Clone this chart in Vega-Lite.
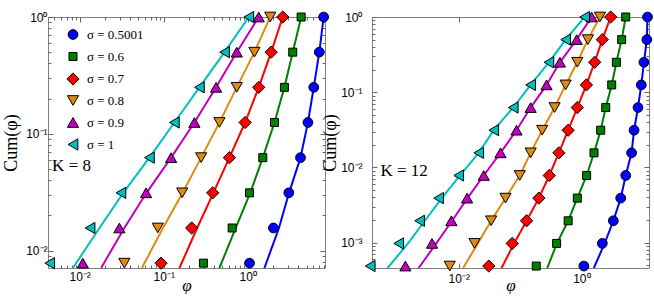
{
  "$schema": "https://vega.github.io/schema/vega-lite/v6.json",
  "padding": {"left": 2, "top": 8, "right": 0, "bottom": 0},
  "spacing": -11,
  "background": "white",
  "config": {
    "view": {"stroke": "#808080", "strokeWidth": 1},
    "axis": {
      "domain": false, "grid": false,
      "labelFont": "Liberation Sans", "labelFontSize": 12, "labelColor": "black",
      "titleFont": "Liberation Serif", "titleFontSize": 18, "titleFontWeight": "normal", "titleColor": "black",
      "tickColor": "#666666", "labelOverlap": false, "labelFlush": false, "minExtent": 0
    },
    "text": {"font": "Liberation Serif"}
  },
  "datasets": {
    "k8pts": [
      {"s": "0.5001", "x": 8, "y": 1}, {"s": "0.5001", "x": 7.1, "y": 0.5}, {"s": "0.5001", "x": 6.1, "y": 0.25}, {"s": "0.5001", "x": 5.2, "y": 0.125}, {"s": "0.5001", "x": 4.24, "y": 0.0625}, {"s": "0.5001", "x": 3.08, "y": 0.03125}, {"s": "0.5001", "x": 2.02, "y": 0.015625}, {"s": "0.5001", "x": 1.05, "y": 0.0078125},
      {"s": "0.6", "x": 4.32, "y": 1}, {"s": "0.6", "x": 3.43, "y": 0.5}, {"s": "0.6", "x": 2.73, "y": 0.25}, {"s": "0.6", "x": 2.08, "y": 0.125}, {"s": "0.6", "x": 1.51, "y": 0.0625}, {"s": "0.6", "x": 1.05, "y": 0.03125}, {"s": "0.6", "x": 0.652, "y": 0.015625}, {"s": "0.6", "x": 0.297, "y": 0.0078125},
      {"s": "0.7", "x": 2.61, "y": 1}, {"s": "0.7", "x": 1.9, "y": 0.5}, {"s": "0.7", "x": 1.35, "y": 0.25}, {"s": "0.7", "x": 0.93, "y": 0.125}, {"s": "0.7", "x": 0.605, "y": 0.0625}, {"s": "0.7", "x": 0.383, "y": 0.03125}, {"s": "0.7", "x": 0.215, "y": 0.015625}, {"s": "0.7", "x": 0.093, "y": 0.0078125},
      {"s": "0.8", "x": 1.85, "y": 1}, {"s": "0.8", "x": 1.2, "y": 0.5}, {"s": "0.8", "x": 0.74, "y": 0.25}, {"s": "0.8", "x": 0.46, "y": 0.125}, {"s": "0.8", "x": 0.279, "y": 0.0625}, {"s": "0.8", "x": 0.166, "y": 0.03125}, {"s": "0.8", "x": 0.085, "y": 0.015625}, {"s": "0.8", "x": 0.034, "y": 0.0078125},
      {"s": "0.9", "x": 1.35, "y": 1}, {"s": "0.9", "x": 0.74, "y": 0.5}, {"s": "0.9", "x": 0.42, "y": 0.25}, {"s": "0.9", "x": 0.232, "y": 0.125}, {"s": "0.9", "x": 0.1225, "y": 0.0625}, {"s": "0.9", "x": 0.0617, "y": 0.03125}, {"s": "0.9", "x": 0.0297, "y": 0.015625}, {"s": "0.9", "x": 0.0109, "y": 0.0078125},
      {"s": "1", "x": 1.03, "y": 1}, {"s": "1", "x": 0.53, "y": 0.5}, {"s": "1", "x": 0.266, "y": 0.25}, {"s": "1", "x": 0.134, "y": 0.125}, {"s": "1", "x": 0.0676, "y": 0.0625}, {"s": "1", "x": 0.031, "y": 0.03125}, {"s": "1", "x": 0.0133, "y": 0.015625}, {"s": "1", "x": 0.0044, "y": 0.0078125}
    ],
    "k8line": [
      {"s": "0.5001", "x": 8, "y": 1}, {"s": "0.5001", "x": 7.1, "y": 0.5}, {"s": "0.5001", "x": 6.1, "y": 0.25}, {"s": "0.5001", "x": 5.2, "y": 0.125}, {"s": "0.5001", "x": 4.24, "y": 0.0625}, {"s": "0.5001", "x": 3.1, "y": 0.03125}, {"s": "0.5001", "x": 2.35, "y": 0.015625}, {"s": "0.5001", "x": 1.58, "y": 0.0071},
      {"s": "0.6", "x": 4.32, "y": 1}, {"s": "0.6", "x": 3.43, "y": 0.5}, {"s": "0.6", "x": 2.73, "y": 0.25}, {"s": "0.6", "x": 2.08, "y": 0.125}, {"s": "0.6", "x": 1.51, "y": 0.0625}, {"s": "0.6", "x": 1.07, "y": 0.03125}, {"s": "0.6", "x": 0.72, "y": 0.015625}, {"s": "0.6", "x": 0.46, "y": 0.0071},
      {"s": "0.7", "x": 2.61, "y": 1}, {"s": "0.7", "x": 1.9, "y": 0.5}, {"s": "0.7", "x": 1.35, "y": 0.25}, {"s": "0.7", "x": 0.93, "y": 0.125}, {"s": "0.7", "x": 0.605, "y": 0.0625}, {"s": "0.7", "x": 0.39, "y": 0.03125}, {"s": "0.7", "x": 0.25, "y": 0.015625}, {"s": "0.7", "x": 0.154, "y": 0.0071},
      {"s": "0.8", "x": 1.85, "y": 1}, {"s": "0.8", "x": 1.2, "y": 0.5}, {"s": "0.8", "x": 0.74, "y": 0.25}, {"s": "0.8", "x": 0.46, "y": 0.125}, {"s": "0.8", "x": 0.279, "y": 0.0625}, {"s": "0.8", "x": 0.168, "y": 0.03125}, {"s": "0.8", "x": 0.098, "y": 0.015625}, {"s": "0.8", "x": 0.055, "y": 0.0071},
      {"s": "0.9", "x": 1.35, "y": 1}, {"s": "0.9", "x": 0.74, "y": 0.5}, {"s": "0.9", "x": 0.42, "y": 0.25}, {"s": "0.9", "x": 0.232, "y": 0.125}, {"s": "0.9", "x": 0.1225, "y": 0.0625}, {"s": "0.9", "x": 0.0625, "y": 0.03125}, {"s": "0.9", "x": 0.034, "y": 0.015625}, {"s": "0.9", "x": 0.018, "y": 0.0071},
      {"s": "1", "x": 1.03, "y": 1}, {"s": "1", "x": 0.53, "y": 0.5}, {"s": "1", "x": 0.266, "y": 0.25}, {"s": "1", "x": 0.134, "y": 0.125}, {"s": "1", "x": 0.0676, "y": 0.0625}, {"s": "1", "x": 0.033, "y": 0.03125}, {"s": "1", "x": 0.0172, "y": 0.015625}, {"s": "1", "x": 0.0083, "y": 0.0071}
    ],
    "k12pts": [
      {"s": "0.5001", "x": 12, "y": 1}, {"s": "0.5001", "x": 11.7, "y": 0.5}, {"s": "0.5001", "x": 10.5, "y": 0.25}, {"s": "0.5001", "x": 9.5, "y": 0.125}, {"s": "0.5001", "x": 8.4, "y": 0.0625}, {"s": "0.5001", "x": 7.25, "y": 0.03125}, {"s": "0.5001", "x": 6.6, "y": 0.015625}, {"s": "0.5001", "x": 5.3, "y": 0.0078125}, {"s": "0.5001", "x": 4.39, "y": 0.00390625}, {"s": "0.5001", "x": 3.33, "y": 0.001953125}, {"s": "0.5001", "x": 2.2, "y": 0.0009765625}, {"s": "0.5001", "x": 1.1, "y": 0.00048828125},
      {"s": "0.6", "x": 5.3, "y": 1}, {"s": "0.6", "x": 4.55, "y": 0.5}, {"s": "0.6", "x": 3.73, "y": 0.25}, {"s": "0.6", "x": 3.13, "y": 0.125}, {"s": "0.6", "x": 2.5, "y": 0.0625}, {"s": "0.6", "x": 2.07, "y": 0.03125}, {"s": "0.6", "x": 1.61, "y": 0.015625}, {"s": "0.6", "x": 1.22, "y": 0.0078125}, {"s": "0.6", "x": 0.86, "y": 0.00390625}, {"s": "0.6", "x": 0.61, "y": 0.001953125}, {"s": "0.6", "x": 0.395, "y": 0.0009765625}, {"s": "0.6", "x": 0.184, "y": 0.00048828125},
      {"s": "0.7", "x": 3.01, "y": 1}, {"s": "0.7", "x": 2.2, "y": 0.5}, {"s": "0.7", "x": 1.65, "y": 0.25}, {"s": "0.7", "x": 1.21, "y": 0.125}, {"s": "0.7", "x": 0.86, "y": 0.0625}, {"s": "0.7", "x": 0.61, "y": 0.03125}, {"s": "0.7", "x": 0.43, "y": 0.015625}, {"s": "0.7", "x": 0.3, "y": 0.0078125}, {"s": "0.7", "x": 0.203, "y": 0.00390625}, {"s": "0.7", "x": 0.128, "y": 0.001953125}, {"s": "0.7", "x": 0.0745, "y": 0.0009765625}, {"s": "0.7", "x": 0.031, "y": 0.00048828125},
      {"s": "0.8", "x": 2.01, "y": 1}, {"s": "0.8", "x": 1.28, "y": 0.5}, {"s": "0.8", "x": 0.86, "y": 0.25}, {"s": "0.8", "x": 0.555, "y": 0.125}, {"s": "0.8", "x": 0.366, "y": 0.0625}, {"s": "0.8", "x": 0.23, "y": 0.03125}, {"s": "0.8", "x": 0.149, "y": 0.015625}, {"s": "0.8", "x": 0.099, "y": 0.0078125}, {"s": "0.8", "x": 0.058, "y": 0.00390625}, {"s": "0.8", "x": 0.0338, "y": 0.001953125}, {"s": "0.8", "x": 0.0181, "y": 0.0009765625}, {"s": "0.8", "x": 0.00713, "y": 0.00048828125},
      {"s": "0.9", "x": 1.47, "y": 1}, {"s": "0.9", "x": 0.84, "y": 0.5}, {"s": "0.9", "x": 0.447, "y": 0.25}, {"s": "0.9", "x": 0.271, "y": 0.125}, {"s": "0.9", "x": 0.149, "y": 0.0625}, {"s": "0.9", "x": 0.0877, "y": 0.03125}, {"s": "0.9", "x": 0.048, "y": 0.015625}, {"s": "0.9", "x": 0.0256, "y": 0.0078125}, {"s": "0.9", "x": 0.0137, "y": 0.00390625}, {"s": "0.9", "x": 0.0076, "y": 0.001953125}, {"s": "0.9", "x": 0.00367, "y": 0.0009765625}, {"s": "0.9", "x": 0.00135, "y": 0.00048828125},
      {"s": "1", "x": 1.13, "y": 1}, {"s": "1", "x": 0.555, "y": 0.5}, {"s": "1", "x": 0.296, "y": 0.25}, {"s": "1", "x": 0.149, "y": 0.125}, {"s": "1", "x": 0.0775, "y": 0.0625}, {"s": "1", "x": 0.0373, "y": 0.03125}, {"s": "1", "x": 0.0212, "y": 0.015625}, {"s": "1", "x": 0.01, "y": 0.0078125}, {"s": "1", "x": 0.0047, "y": 0.00390625}, {"s": "1", "x": 0.0023, "y": 0.001953125}, {"s": "1", "x": 0.00105, "y": 0.0009765625}, {"s": "1", "x": 0.00036, "y": 0.00048828125}
    ],
    "k12line": [
      {"s": "0.5001", "x": 12, "y": 1}, {"s": "0.5001", "x": 11.7, "y": 0.5}, {"s": "0.5001", "x": 10.5, "y": 0.25}, {"s": "0.5001", "x": 9.5, "y": 0.125}, {"s": "0.5001", "x": 8.4, "y": 0.0625}, {"s": "0.5001", "x": 7.25, "y": 0.03125}, {"s": "0.5001", "x": 6.6, "y": 0.015625}, {"s": "0.5001", "x": 5.3, "y": 0.0078125}, {"s": "0.5001", "x": 4.39, "y": 0.00390625}, {"s": "0.5001", "x": 3.33, "y": 0.001953125}, {"s": "0.5001", "x": 2.4, "y": 0.0009765625}, {"s": "0.5001", "x": 1.6, "y": 0.00046},
      {"s": "0.6", "x": 5.3, "y": 1}, {"s": "0.6", "x": 4.55, "y": 0.5}, {"s": "0.6", "x": 3.73, "y": 0.25}, {"s": "0.6", "x": 3.13, "y": 0.125}, {"s": "0.6", "x": 2.5, "y": 0.0625}, {"s": "0.6", "x": 2.07, "y": 0.03125}, {"s": "0.6", "x": 1.61, "y": 0.015625}, {"s": "0.6", "x": 1.22, "y": 0.0078125}, {"s": "0.6", "x": 0.86, "y": 0.00390625}, {"s": "0.6", "x": 0.61, "y": 0.001953125}, {"s": "0.6", "x": 0.4, "y": 0.0009765625}, {"s": "0.6", "x": 0.278, "y": 0.00046},
      {"s": "0.7", "x": 3.01, "y": 1}, {"s": "0.7", "x": 2.2, "y": 0.5}, {"s": "0.7", "x": 1.65, "y": 0.25}, {"s": "0.7", "x": 1.21, "y": 0.125}, {"s": "0.7", "x": 0.86, "y": 0.0625}, {"s": "0.7", "x": 0.61, "y": 0.03125}, {"s": "0.7", "x": 0.43, "y": 0.015625}, {"s": "0.7", "x": 0.3, "y": 0.0078125}, {"s": "0.7", "x": 0.203, "y": 0.00390625}, {"s": "0.7", "x": 0.128, "y": 0.001953125}, {"s": "0.7", "x": 0.08, "y": 0.0009765625}, {"s": "0.7", "x": 0.05, "y": 0.00046},
      {"s": "0.8", "x": 2.01, "y": 1}, {"s": "0.8", "x": 1.28, "y": 0.5}, {"s": "0.8", "x": 0.86, "y": 0.25}, {"s": "0.8", "x": 0.555, "y": 0.125}, {"s": "0.8", "x": 0.366, "y": 0.0625}, {"s": "0.8", "x": 0.23, "y": 0.03125}, {"s": "0.8", "x": 0.149, "y": 0.015625}, {"s": "0.8", "x": 0.099, "y": 0.0078125}, {"s": "0.8", "x": 0.058, "y": 0.00390625}, {"s": "0.8", "x": 0.0338, "y": 0.001953125}, {"s": "0.8", "x": 0.0205, "y": 0.0009765625}, {"s": "0.8", "x": 0.0118, "y": 0.00046},
      {"s": "0.9", "x": 1.47, "y": 1}, {"s": "0.9", "x": 0.84, "y": 0.5}, {"s": "0.9", "x": 0.447, "y": 0.25}, {"s": "0.9", "x": 0.271, "y": 0.125}, {"s": "0.9", "x": 0.149, "y": 0.0625}, {"s": "0.9", "x": 0.0877, "y": 0.03125}, {"s": "0.9", "x": 0.048, "y": 0.015625}, {"s": "0.9", "x": 0.0256, "y": 0.0078125}, {"s": "0.9", "x": 0.0139, "y": 0.00390625}, {"s": "0.9", "x": 0.0078, "y": 0.001953125}, {"s": "0.9", "x": 0.0043, "y": 0.0009765625}, {"s": "0.9", "x": 0.00222, "y": 0.00046},
      {"s": "1", "x": 1.13, "y": 1}, {"s": "1", "x": 0.555, "y": 0.5}, {"s": "1", "x": 0.296, "y": 0.25}, {"s": "1", "x": 0.149, "y": 0.125}, {"s": "1", "x": 0.0775, "y": 0.0625}, {"s": "1", "x": 0.0373, "y": 0.03125}, {"s": "1", "x": 0.0212, "y": 0.015625}, {"s": "1", "x": 0.0105, "y": 0.0078125}, {"s": "1", "x": 0.0053, "y": 0.00390625}, {"s": "1", "x": 0.0028, "y": 0.001953125}, {"s": "1", "x": 0.00149, "y": 0.0009765625}, {"s": "1", "x": 0.00069, "y": 0.00046}
    ],
    "labels": [{"k8": "K = 8", "k12": "K = 12"}]
  },
  "hconcat": [
    {
      "width": 277, "height": 251,
      "layer": [
        {
          "data": {"name": "k8line"},
          "mark": {"type": "line", "strokeWidth": 2, "clip": true},
          "encoding": {
            "x": {"field": "x", "type": "quantitative", "title": "φ",
              "scale": {"type": "log", "domain": [0.0042, 8.3], "nice": false},
              "axis": {"orient": "bottom", "titleFontStyle": "italic", "titleFontSize": 17, "titlePadding": -7, "labelPadding": 8,
                "values": [0.005,0.006,0.007,0.008,0.009,0.01,0.02,0.03,0.04,0.05,0.06,0.07,0.08,0.09,0.1,0.2,0.3,0.4,0.5,0.6,0.7,0.8,0.9,1,2,3,4,5,6,7,8],
                "tickSize": {"condition": {"test": "datum.value == 0.01 || datum.value == 0.1 || datum.value == 1", "value": -5}, "value": -3},
                "labelExpr": "datum.value == 1 ? '10⁰' : datum.value == 0.1 ? '10⁻¹' : datum.value == 0.01 ? '10⁻²' : ''"}},
            "y": {"field": "y", "type": "quantitative", "title": "Cum(φ)",
              "scale": {"type": "log", "domain": [0.0071, 1], "nice": false},
              "axis": {"orient": "left", "labelPadding": 6, "titlePadding": 5,
                "values": [0.008,0.009,0.01,0.02,0.03,0.04,0.05,0.06,0.07,0.08,0.09,0.1,0.2,0.3,0.4,0.5,0.6,0.7,0.8,0.9,1],
                "tickSize": {"condition": {"test": "datum.value == 0.01 || datum.value == 0.1 || datum.value == 1", "value": -5}, "value": -3},
                "labelExpr": "datum.value == 1 ? '10⁰' : datum.value == 0.1 ? '10⁻¹' : datum.value == 0.01 ? '10⁻²' : ''"}},
            "stroke": {"field": "s", "type": "nominal", "legend": null,
              "scale": {"domain": ["1","0.9","0.8","0.7","0.6","0.5001"], "range": ["#00BFBF","#BF00BF","#E08A15","#FF0000","#008000","#0000FF"]}}
          }
        },
        {
          "data": {"name": "k8pts"},
          "mark": {"type": "point", "filled": true, "opacity": 1, "stroke": "black", "strokeWidth": 1},
          "encoding": {
            "x": {"field": "x", "type": "quantitative",
              "scale": {"type": "log", "domain": [0.0042, 8.3], "nice": false},
              "axis": {"orient": "top", "labels": false, "title": null,
                "values": [0.005,0.006,0.007,0.008,0.009,0.01,0.02,0.03,0.04,0.05,0.06,0.07,0.08,0.09,0.1,0.2,0.3,0.4,0.5,0.6,0.7,0.8,0.9,1,2,3,4,5,6,7,8],
                "tickSize": {"condition": {"test": "datum.value == 0.01 || datum.value == 0.1 || datum.value == 1", "value": -5}, "value": -3}}},
            "y": {"field": "y", "type": "quantitative",
              "scale": {"type": "log", "domain": [0.0071, 1], "nice": false},
              "axis": {"orient": "right", "labels": false, "title": null,
                "values": [0.008,0.009,0.01,0.02,0.03,0.04,0.05,0.06,0.07,0.08,0.09,0.1,0.2,0.3,0.4,0.5,0.6,0.7,0.8,0.9,1],
                "tickSize": {"condition": {"test": "datum.value == 0.01 || datum.value == 0.1 || datum.value == 1", "value": -5}, "value": -3}}},
            "color": {"field": "s", "type": "nominal",
              "scale": {"domain": ["0.5001","0.6","0.7","0.8","0.9","1"], "range": ["#0000FF","#008000","#FF0000","#E08A15","#BF00BF","#00BFBF"]},
              "legend": {"orient": "none", "legendX": 18, "legendY": 11, "title": null, "labelFont": "Liberation Serif", "labelFontSize": 13,
                "symbolStrokeColor": "black", "symbolStrokeWidth": 1, "labelExpr": "'σ = ' + datum.label", "gridAlign": "all", "rowPadding": 4, "labelOffset": 7}},
            "shape": {"field": "s", "type": "nominal",
              "scale": {"domain": ["0.5001","0.6","0.7","0.8","0.9","1"], "range": ["circle","square","diamond","triangle-down","triangle-up","triangle-left"]},
              "legend": {"orient": "none", "legendX": 18, "legendY": 11, "title": null, "labelFont": "Liberation Serif", "labelFontSize": 13,
                "symbolStrokeColor": "black", "symbolStrokeWidth": 1, "labelExpr": "'σ = ' + datum.label", "gridAlign": "all", "rowPadding": 4, "labelOffset": 7}},
            "size": {"field": "s", "type": "nominal",
              "scale": {"type": "ordinal", "domain": ["0.5001","0.6","0.7","0.8","0.9","1"], "range": [95, 64, 150, 125, 125, 125]},
              "legend": {"orient": "none", "legendX": 18, "legendY": 11, "title": null, "labelFont": "Liberation Serif", "labelFontSize": 13,
                "symbolStrokeColor": "black", "symbolStrokeWidth": 1, "labelExpr": "'σ = ' + datum.label", "gridAlign": "all", "rowPadding": 4, "labelOffset": 7}}
          }
        },
        {
          "data": {"name": "labels"},
          "mark": {"type": "text", "align": "left", "baseline": "middle", "fontSize": 17, "font": "Liberation Serif"},
          "encoding": {
            "x": {"datum": 0.0047, "type": "quantitative", "scale": {"type": "log", "domain": [0.0042, 8.3], "nice": false}, "axis": null},
            "y": {"datum": 0.0532, "type": "quantitative", "scale": {"type": "log", "domain": [0.0071, 1], "nice": false}, "axis": null},
            "text": {"field": "k8"}
          }
        }
      ],
      "resolve": {"axis": {"x": "independent", "y": "independent"}}
    },
    {
      "width": 277, "height": 251,
      "layer": [
        {
          "data": {"name": "k12line"},
          "mark": {"type": "line", "strokeWidth": 2, "clip": true},
          "encoding": {
            "x": {"field": "x", "type": "quantitative", "title": "φ",
              "scale": {"type": "log", "domain": [0.000385, 12.7], "nice": false},
              "axis": {"orient": "bottom", "titleFontStyle": "italic", "titleFontSize": 17, "titlePadding": -7, "labelPadding": 10,
                "values": [0.01, 1], "tickSize": -5,
                "labelExpr": "datum.value == 1 ? '10⁰' : datum.value == 0.01 ? '10⁻²' : ''"}},
            "y": {"field": "y", "type": "quantitative", "title": "Cum(φ)",
              "scale": {"type": "log", "domain": [0.00046, 1], "nice": false},
              "axis": {"orient": "left", "labelPadding": 15, "titlePadding": 1,
                "values": [0.0005,0.0006,0.0007,0.0008,0.0009,0.001,0.002,0.003,0.004,0.005,0.006,0.007,0.008,0.009,0.01,0.02,0.03,0.04,0.05,0.06,0.07,0.08,0.09,0.1,0.2,0.3,0.4,0.5,0.6,0.7,0.8,0.9,1],
                "tickSize": {"condition": {"test": "datum.value == 0.001 || datum.value == 0.01 || datum.value == 0.1 || datum.value == 1", "value": -5}, "value": -3},
                "labelExpr": "datum.value == 1 ? '10⁰' : datum.value == 0.1 ? '10⁻¹' : datum.value == 0.01 ? '10⁻²' : datum.value == 0.001 ? '10⁻³' : ''"}},
            "stroke": {"field": "s", "type": "nominal", "legend": null,
              "scale": {"domain": ["1","0.9","0.8","0.7","0.6","0.5001"], "range": ["#00BFBF","#BF00BF","#E08A15","#FF0000","#008000","#0000FF"]}}
          }
        },
        {
          "data": {"name": "k12pts"},
          "mark": {"type": "point", "filled": true, "opacity": 1, "stroke": "black", "strokeWidth": 1},
          "encoding": {
            "x": {"field": "x", "type": "quantitative",
              "scale": {"type": "log", "domain": [0.000385, 12.7], "nice": false},
              "axis": {"orient": "top", "labels": false, "title": null, "values": [0.01, 1], "tickSize": -5}},
            "y": {"field": "y", "type": "quantitative",
              "scale": {"type": "log", "domain": [0.00046, 1], "nice": false},
              "axis": {"orient": "right", "labels": false, "title": null,
                "values": [0.0005,0.0006,0.0007,0.0008,0.0009,0.001,0.002,0.003,0.004,0.005,0.006,0.007,0.008,0.009,0.01,0.02,0.03,0.04,0.05,0.06,0.07,0.08,0.09,0.1,0.2,0.3,0.4,0.5,0.6,0.7,0.8,0.9,1],
                "tickSize": {"condition": {"test": "datum.value == 0.001 || datum.value == 0.01 || datum.value == 0.1 || datum.value == 1", "value": -5}, "value": -3}}},
            "color": {"field": "s", "type": "nominal", "legend": null,
              "scale": {"domain": ["0.5001","0.6","0.7","0.8","0.9","1"], "range": ["#0000FF","#008000","#FF0000","#E08A15","#BF00BF","#00BFBF"]}},
            "shape": {"field": "s", "type": "nominal", "legend": null,
              "scale": {"domain": ["0.5001","0.6","0.7","0.8","0.9","1"], "range": ["circle","square","diamond","triangle-down","triangle-up","triangle-left"]}},
            "size": {"field": "s", "type": "nominal", "legend": null,
              "scale": {"type": "ordinal", "domain": ["0.5001","0.6","0.7","0.8","0.9","1"], "range": [95, 64, 150, 125, 125, 125]}}
          }
        },
        {
          "data": {"name": "labels"},
          "mark": {"type": "text", "align": "left", "baseline": "middle", "fontSize": 17, "font": "Liberation Serif"},
          "encoding": {
            "x": {"datum": 0.00053, "type": "quantitative", "scale": {"type": "log", "domain": [0.000385, 12.7], "nice": false}, "axis": null},
            "y": {"datum": 0.00895, "type": "quantitative", "scale": {"type": "log", "domain": [0.00046, 1], "nice": false}, "axis": null},
            "text": {"field": "k12"}
          }
        }
      ],
      "resolve": {"axis": {"x": "independent", "y": "independent"}}
    }
  ],
  "resolve": {
    "scale": {"color": "independent", "shape": "independent", "size": "independent", "stroke": "independent"},
    "legend": {"color": "independent", "shape": "independent", "size": "independent", "stroke": "independent"}
  }
}
